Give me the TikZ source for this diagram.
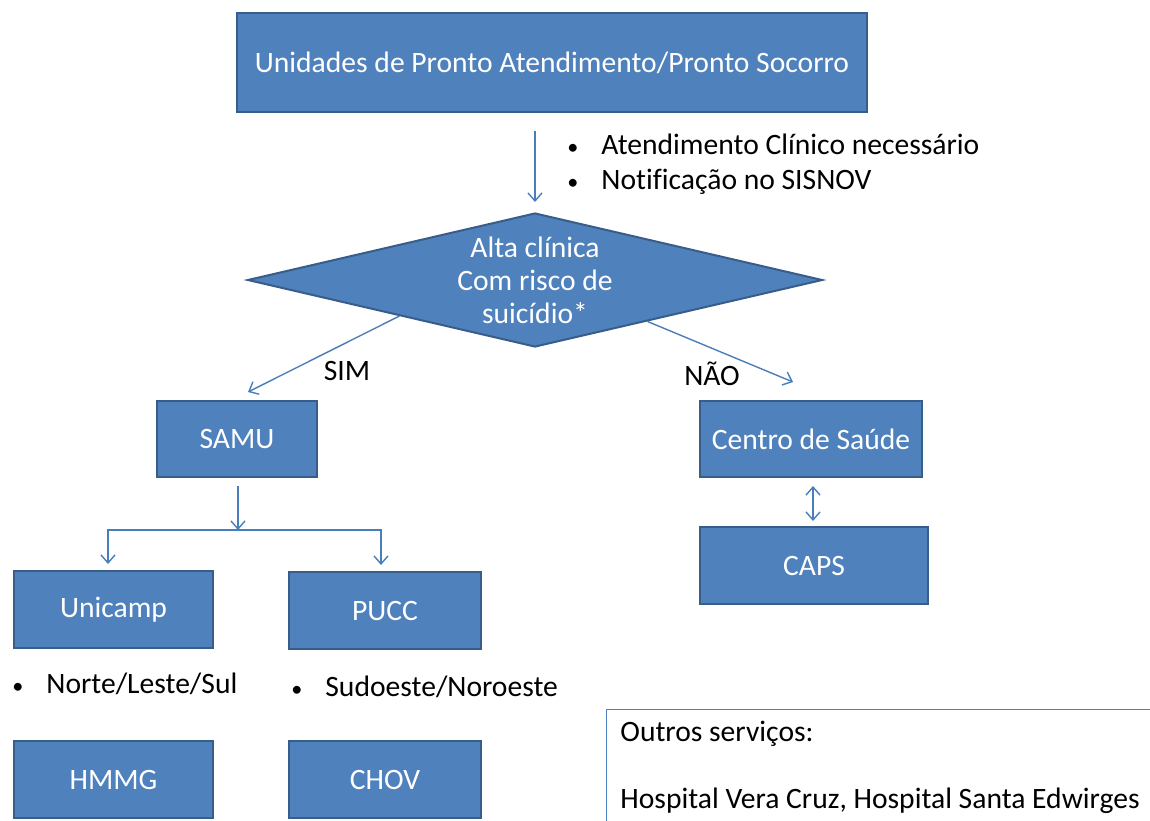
\documentclass[tikz,border=0pt]{standalone}
\usepackage{fontspec}
\setmainfont{Carlito}[Ligatures=NoCommon]
\usetikzlibrary{arrows.meta,shapes.geometric,calc}
\definecolor{boxblue}{HTML}{4F81BD}
\definecolor{boxedge}{HTML}{385D8A}
\definecolor{linkblue}{HTML}{4A7EBB}
\newcommand{\bul}[1]{\makebox[18pt][l]{\hspace{1pt}\scalebox{0.75}{\textbullet}}#1}

\begin{document}
\begin{tikzpicture}[
  x=0.5pt, y=-0.5pt,
  font=\fontsize{14.8}{17.5}\selectfont,
  box/.style={draw=boxedge, fill=boxblue, line width=1pt, text=white,
    align=center, inner sep=0pt},
  decision/.style={box, diamond, shape aspect=4.29,
    minimum width=287.5pt, minimum height=67pt,
    font=\fontsize{14.8}{16.5}\selectfont},
  bullets/.style={anchor=west, align=left, inner sep=0pt},
  arrow/.style={draw=linkblue, line width=0.7pt,
    -{Straight Barb[length=4pt,width=7pt]}},
  twoway/.style={arrow,
    {Straight Barb[length=4pt,width=7pt]}-{Straight Barb[length=4pt,width=7pt]}}
]
\useasboundingbox (0,0) rectangle (1150,820);
\clip (0,0) rectangle (1150,820);

\node[box, minimum width=315pt, minimum height=49.5pt] (upa) at (552,62.5)
  {Unidades de Pronto Atendimento/Pronto Socorro};
\node[bullets] (notes) at (565,164.5)
  {\bul{Atendimento Clínico necessário}\\\bul{Notificação no SISNOV}};
\node[decision] (alta) at (535,280) {Alta clínica\\Com risco de\\suicídio*};

\node (sim) at (347,371) {SIM};
\node (nao) at (712,374) {NÃO};

\node[box, minimum width=80pt, minimum height=38pt] (samu) at (237,439) {SAMU};
\node[box, minimum width=111pt, minimum height=38pt] (centro) at (811,439) {Centro de Saúde};
\node[box, minimum width=114pt, minimum height=38.5pt] (caps) at (814,565.5) {CAPS};

\node[box, minimum width=99.5pt, minimum height=38.5pt] (unicamp) at (113.5,609.5) {Unicamp};
\node[box, minimum width=96pt, minimum height=38.5pt] (pucc) at (385,610.5) {PUCC};
\node[bullets] (norte) at (10,684) {\bul{Norte/Leste/Sul}};
\node[bullets] (sudoeste) at (289,687) {\bul{Sudoeste/Noroeste}};
\node[box, minimum width=99.5pt, minimum height=38.5pt] (hmmg) at (113.5,779.5) {HMMG};
\node[box, minimum width=96pt, minimum height=38.5pt] (chov) at (385,779.5) {CHOV};

\node[draw=boxblue, line width=0.5pt, anchor=north west,
  minimum width=300pt, minimum height=70pt] (outros) at (606,709) {};
\node[anchor=north west, align=left, inner sep=0pt,
  font=\fontsize{14.8}{33.5}\selectfont] (outrostxt)
  at ([shift={(7pt,-6pt)}]outros.north west)
  {Outros serviços:\\Hospital Vera Cruz, Hospital Santa Edwirges};

% connectors
\coordinate (split) at (238,530);
\coordinate (link) at (813,0);
\draw[arrow, shorten <=9pt, shorten >=5pt] (alta.north |- upa.south) -- (alta.north);
\draw[arrow] ($(alta.south)!0.47!(alta.west)$) -- ([xshift=5.5pt,yshift=4pt]samu.north);
\draw[arrow] ($(alta.south)!0.39!(alta.east)$) -- ([xshift=-9pt,yshift=9pt]centro.north);
\draw[arrow, shorten <=4pt] (samu.south -| split) -- (split);
\draw[arrow] (split) -| ([xshift=-2.75pt,yshift=3pt]unicamp.north);
\draw[arrow] (split) -| ([xshift=-2pt,yshift=3pt]pucc.north);
\draw[twoway, shorten <=4pt, shorten >=2.5pt] (centro.south -| link) -- (caps.north -| link);

\end{tikzpicture}
\end{document}
